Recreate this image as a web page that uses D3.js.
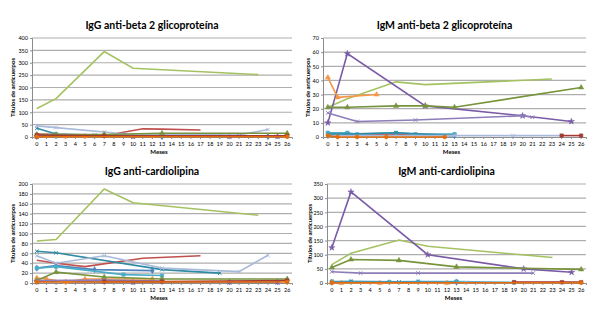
<!DOCTYPE html>
<html>
<head>
  <meta charset="utf-8">
  <script src="https://cdn.jsdelivr.net/npm/d3@7"></script>
  <style>
    body { margin: 0; background: #fff; }
    .title { font-family: Lato, "Open Sans", sans-serif; font-weight: bold; font-size: 10.5px; fill: #000; }
    .axlabel { font-family: Lato, "Open Sans", sans-serif; font-weight: bold; font-size: 6px; fill: #000; }
    .tick text { font-family: Lato, "Open Sans", sans-serif; font-size: 5.5px; fill: #000; }
    .grid line { stroke: #aeaeae; stroke-width: 1.2; }
    .domain { stroke: #8c8c8c; }
    .tick line { stroke: #8c8c8c; }
    .serie { fill: none; stroke-width: 1.6; }
  </style>
</head>
<body>
<script>
  const w = 600;
  const h = 314;

  // months on the x axis
  const months = d3.range(0, 27);

  // one entry per patient
  const patients = ["P1", "P2", "P3", "P4", "P5", "P6", "P7", "P8", "P9", "P10", "P11", "P12"];
  const colors = ["#4F81BD", "#C0504D", "#A5C262", "#7A5BA6", "#4BACC6", "#F79646",
                  "#2F8AA3", "#A9B9DA", "#77933C", "#8C7DB8", "#A33B32", "#E46C0A"];
  const markers = ["diamond", "none", "none", "star", "square", "triangle",
                   "times", "times", "triangle", "times", "square", "circle"];

  // [month, value] pairs, same patient order as above
  const igGBeta2 = [
    [[0, 2], [13, 2], [24, 2]],
    [[0, 12], [7, 5], [11, 33], [13, 32], [17, 28]],
    [[0, 115], [2, 155], [7, 345], [10, 278], [23, 252]],
    [[0, 3], [10, 3], [20, 3], [25, 3]],
    [[0, 8], [2, 3], [6, 4], [9, 6], [13, 3], [19, 3]],
    [[0, 5], [1, 5], [3, 2], [5, 3], [12, 5]],
    [[0, 35], [2, 12], [6, 8], [9, 8], [13, 5]],
    [[0, 45], [2, 38], [7, 20], [9, 12], [21, 8], [24, 30]],
    [[0, 10], [2, 10], [7, 10], [13, 15], [26, 15]],
    [[0, 5], [3, 4], [9, 4], [21, 4]],
    [[0, 8], [7, 5], [26, 5]],
    [[0, 1], [26, 1]]
  ];

  const igMBeta2 = [
    [[0, 2], [13, 1]],
    [[0, 1], [2, 2], [3, 2], [7, 2], [12, 1]],
    [[0, 21], [2, 27], [7, 39], [10, 37], [23, 41]],
    [[0, 10], [2, 59], [10, 22], [20, 15], [25, 11]],
    [[0, 3], [2, 3], [3, 2], [7, 3], [9, 2], [13, 2]],
    [[0, 42], [1, 28], [5, 30]],
    [[0, 2], [2, 2], [7, 3], [13, 1]],
    [[0, 1], [13, 1], [19, 1], [24, 1]],
    [[0, 21], [2, 21], [7, 22], [10, 22], [13, 21], [26, 35]],
    [[0, 17], [3, 11], [9, 12], [20, 15], [21, 14]],
    [[24, 1], [26, 1]],
    [[0, 1], [1, 0], [3, 0], [6, 0], [12, 0]]
  ];

  const igGCardio = [
    [[0, 30], [2, 35], [6, 27], [12, 25]],
    [[0, 46], [2, 40], [5, 33], [11, 50], [17, 55]],
    [[0, 85], [2, 88], [7, 190], [10, 162], [23, 137]],
    [[0, 3], [10, 2], [20, 2], [25, 2]],
    [[0, 30], [2, 33], [9, 17], [13, 15]],
    [[0, 10], [1, 8], [3, 2], [5, 8], [12, 8]],
    [[0, 64], [2, 61], [13, 27], [19, 20]],
    [[0, 55], [2, 40], [7, 55], [13, 30], [21, 23], [24, 56]],
    [[0, 5], [2, 22], [7, 12], [13, 8], [26, 8]],
    [[0, 5], [7, 6], [13, 4]],
    [[7, 3], [13, 3], [26, 5]],
    [[0, 2], [26, 2]]
  ];

  const igMCardio = [
    [[0, 3], [13, 3]],
    [[0, 3], [3, 4], [7, 3], [13, 3]],
    [[0, 65], [2, 105], [7, 152], [10, 130], [23, 90]],
    [[0, 125], [2, 322], [10, 100], [20, 50], [25, 38]],
    [[0, 5], [2, 5], [6, 4], [9, 5], [13, 5], [19, 2]],
    [[0, 2], [1, 0], [5, 0], [12, 0]],
    [[0, 4], [2, 5], [7, 4], [13, 3]],
    [[0, 2], [14, 2], [24, 2]],
    [[0, 55], [2, 83], [7, 80], [13, 57], [26, 48]],
    [[0, 40], [3, 35], [9, 35], [21, 35]],
    [[19, 3], [24, 3], [26, 3]],
    [[0, 1], [26, 1]]
  ];

  const titles = ["IgG anti-beta 2 glicoproteína", "IgM anti-beta 2 glicoproteína",
                  "IgG anti-cardiolipina", "IgM anti-cardiolipina"];
  const yMax = [400, 70, 200, 350];
  const yStep = [50, 10, 20, 50];
  const datasets = [igGBeta2, igMBeta2, igGCardio, igMCardio];

  // plot area boxes
  const boxes = [
    { x0: 32, x1: 292, top: 38, bottom: 137, titleY: 29, ylabX: 15 },
    { x0: 323, x1: 586, top: 38, bottom: 137, titleY: 29, ylabX: 310 },
    { x0: 32, x1: 292, top: 184, bottom: 283, titleY: 175, ylabX: 15 },
    { x0: 327, x1: 586, top: 184, bottom: 283, titleY: 175, ylabX: 312 }
  ];

  const symbolTypes = {
    diamond: d3.symbolDiamond, square: d3.symbolSquare, triangle: d3.symbolTriangle,
    star: d3.symbolStar, circle: d3.symbolCircle, times: d3.symbolTimes
  };

  const svg = d3.select("body")
    .append("svg")
    .attr("width", w)
    .attr("height", h);

  datasets.forEach(function(data, i) {
    const b = boxes[i];
    const g = svg.append("g");

    const xScale = d3.scaleBand().domain(months).range([b.x0, b.x1]);
    const yScale = d3.scaleLinear().domain([0, yMax[i]]).range([b.bottom, b.top]);
    const half = xScale.bandwidth() / 2;
    const yTicks = d3.range(0, yMax[i] + 1, yStep[i]);

    // gridlines
    g.append("g")
      .attr("class", "grid")
      .selectAll("line")
      .data(yTicks.slice(1))
      .enter()
      .append("line")
      .attr("x1", b.x0)
      .attr("x2", b.x1)
      .attr("y1", function(d) { return yScale(d); })
      .attr("y2", function(d) { return yScale(d); });

    // axes
    g.append("g")
      .attr("transform", "translate(" + b.x0 + ",0)")
      .call(d3.axisLeft(yScale).tickValues(yTicks).tickSize(2).tickPadding(2));

    g.append("g")
      .attr("transform", "translate(0," + b.bottom + ")")
      .call(d3.axisBottom(xScale).tickSize(2).tickPadding(3));

    // lines
    const line = d3.line()
      .x(function(d) { return xScale(d[0]) + half; })
      .y(function(d) { return yScale(d[1]); });

    data.forEach(function(serie, k) {
      g.append("path")
        .datum(serie)
        .attr("class", "serie")
        .attr("stroke", colors[k])
        .attr("d", line);

      if (markers[k] === "none") return;
      const sym = d3.symbol().type(symbolTypes[markers[k]]).size(markers[k] === "times" ? 10 : 12);
      g.selectAll(null)
        .data(serie)
        .enter()
        .append("path")
        .attr("transform", function(d) {
          return "translate(" + (xScale(d[0]) + half) + "," + yScale(d[1]) + ")";
        })
        .attr("d", sym)
        .attr("fill", markers[k] === "times" ? "none" : colors[k])
        .attr("stroke", colors[k])
        .attr("stroke-width", markers[k] === "times" ? 1 : 0.5);
    });

    // titles
    g.append("text")
      .attr("class", "title")
      .attr("x", (b.x0 + b.x1) / 2 - 10)
      .attr("y", b.titleY)
      .attr("text-anchor", "middle")
      .text(titles[i]);

    g.append("text")
      .attr("class", "axlabel")
      .attr("x", (b.x0 + b.x1) / 2 - 3)
      .attr("y", b.bottom + 17)
      .attr("text-anchor", "middle")
      .text("Meses");

    g.append("text")
      .attr("class", "axlabel")
      .attr("transform", "translate(" + b.ylabX + "," + (b.top + b.bottom) / 2 + ") rotate(-90)")
      .attr("text-anchor", "middle")
      .text("Títulos de anticuerpos");
  });
</script>
</body>
</html>
